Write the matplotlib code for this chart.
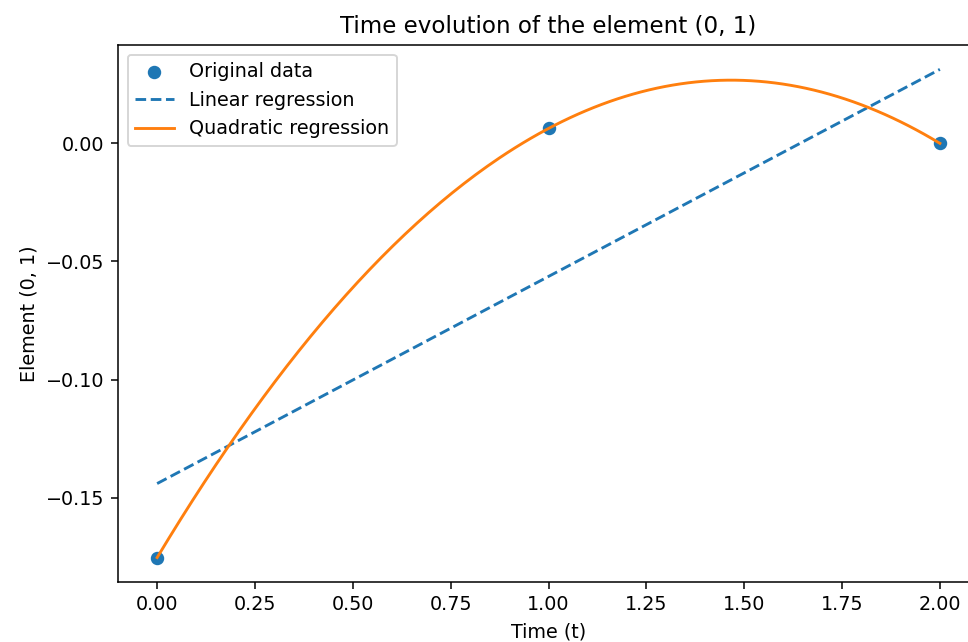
import numpy as np
import matplotlib
matplotlib.use('Agg')
import matplotlib.pyplot as plt

# 原始数据：矩阵元素 (0, 1) 随时间变化
t = np.array([0.0, 1.0, 2.0])
values = np.array([-0.1754, 0.0063, 0.0])

# 线性和二次回归
lin_coef = np.polyfit(t, values, 1)
quad_coef = np.polyfit(t, values, 2)
t_fine = np.linspace(t.min(), t.max(), 200)

dpi = 138
fig = plt.figure(figsize=(968 / dpi, 642 / dpi), dpi=dpi)
ax = fig.add_axes([0.1219, 0.0935, 0.8895, 0.8365])

ax.scatter(t, values, label='Original data')
ax.plot(t, np.polyval(lin_coef, t), '--', label='Linear regression')
ax.plot(t_fine, np.polyval(quad_coef, t_fine), '-', label='Quadratic regression')

ax.set_xlabel('Time (t)')
ax.set_ylabel('Element (0, 1)')
ax.set_title('Time evolution of the element (0, 1)')
ax.legend(loc='upper left')

plt.savefig('out.png', dpi=dpi)
